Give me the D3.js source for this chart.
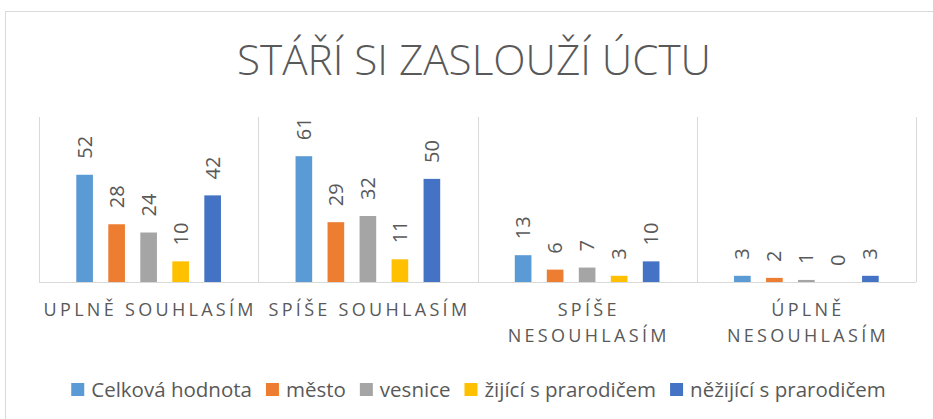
<!DOCTYPE html>
<html>
<head>
<meta charset="utf-8">
<script src="https://cdn.jsdelivr.net/npm/d3@7"></script>
<style>
  body { margin: 0; background: #fff; }
  text { font-family: "Open Sans", sans-serif; }
</style>
</head>
<body>
<svg id="chart" width="933" height="419"></svg>
<script>
const categories = [
  ["UPLNĚ SOUHLASÍM"],
  ["SPÍŠE SOUHLASÍM"],
  ["SPÍŠE", "NESOUHLASÍM"],
  ["ÚPLNĚ", "NESOUHLASÍM"]
];
const seriesNames = ["Celková hodnota", "město", "vesnice", "žijící s prarodičem", "něžijící s prarodičem"];
const colors = ["#5B9BD5", "#ED7D31", "#A5A5A5", "#FFC000", "#4472C4"];
const celkova = [52, 61, 13, 3];
const mesto = [28, 29, 6, 2];
const vesnice = [24, 32, 7, 1];
const zijici = [10, 11, 3, 0];
const nezijici = [42, 50, 10, 3];
const series = [celkova, mesto, vesnice, zijici, nezijici];

const svg = d3.select("#chart");
const margin = { top: 117, left: 39, right: 17, bottom: 137 };
const width = 933 - margin.left - margin.right;
const height = 419 - margin.top - margin.bottom;
const textColor = "#595959";
const gridColor = "#D9D9D9";

// chart border
svg.append("rect")
  .attr("x", 5.5).attr("y", 11.5)
  .attr("width", 940).attr("height", 420)
  .attr("fill", "none").attr("stroke", gridColor);

// title
svg.append("text")
  .attr("x", 474).attr("y", 75)
  .attr("text-anchor", "middle")
  .attr("font-size", 42)
  .attr("font-weight", 300)
  .attr("fill", textColor)
  .attr("textLength", 474)
  .attr("lengthAdjust", "spacingAndGlyphs")
  .text("STÁŘÍ SI ZASLOUŽÍ ÚCTU");

const g = svg.append("g").attr("transform", `translate(${margin.left},${margin.top})`);

const catKeys = categories.map((c) => c.join(" "));
const x0 = d3.scaleBand().domain(catKeys).range([0, width]);
const x1 = d3.scaleBand().domain(seriesNames).range([0, x0.bandwidth()])
  .paddingInner(0.48).paddingOuter(1.165);
const y = d3.scaleLinear().domain([0, 80]).range([height, 0]);

// category separators
g.selectAll("line.sep")
  .data(d3.range(catKeys.length + 1))
  .enter().append("line")
  .attr("x1", (i) => Math.round(i * x0.step()) + 0.5)
  .attr("x2", (i) => Math.round(i * x0.step()) + 0.5)
  .attr("y1", 0).attr("y2", height)
  .attr("stroke", gridColor);

// bars
const groups = g.selectAll("g.cat")
  .data(catKeys)
  .enter().append("g")
  .attr("transform", (d) => `translate(${x0(d)},0)`);

groups.each(function (cat, ci) {
  const grp = d3.select(this);
  const vals = seriesNames.map((s, si) => ({ s, si, v: series[si][ci] }));
  grp.selectAll("rect")
    .data(vals)
    .enter().append("rect")
    .attr("x", (d) => x1(d.s))
    .attr("y", (d) => y(d.v))
    .attr("width", x1.bandwidth())
    .attr("height", (d) => height - y(d.v))
    .attr("fill", (d) => colors[d.si]);
  grp.selectAll("text")
    .data(vals)
    .enter().append("text")
    .attr("transform", (d) => `translate(${x1(d.s) + x1.bandwidth() / 2 + 7},${y(d.v) - 16}) rotate(-90)`)
    .attr("font-size", 20)
    .attr("fill", textColor)
    .text((d) => d.v);
});

// baseline axis
g.append("line")
  .attr("x1", 0).attr("x2", width)
  .attr("y1", height + 0.5).attr("y2", height + 0.5)
  .attr("stroke", gridColor);

// category labels
categories.forEach((lines, ci) => {
  const cx = x0(catKeys[ci]) + x0.bandwidth() / 2;
  const t = g.append("text")
    .attr("y", height + 34)
    .attr("text-anchor", "middle")
    .attr("font-size", 18)
    .attr("letter-spacing", 3.3)
    .attr("fill", textColor);
  lines.forEach((ln, li) => {
    t.append("tspan")
      .attr("x", cx + 1.6)
      .attr("dy", li === 0 ? 0 : 26)
      .text(ln);
  });
});

// legend, laid out from measured text widths and centred
const legend = svg.append("g").attr("transform", "translate(0,397)");
let lx = 0;
const items = seriesNames.map((s, i) => {
  const item = legend.append("g");
  item.append("rect")
    .attr("x", 0).attr("y", -14)
    .attr("width", 13).attr("height", 13)
    .attr("fill", colors[i]);
  const t = item.append("text")
    .attr("x", 20).attr("y", 0)
    .attr("font-size", 20.5)
    .attr("fill", textColor)
    .text(s);
  const w = 20 + t.node().getComputedTextLength();
  const pos = lx;
  lx += w + 14;
  return { item, pos };
});
const totalW = lx - 14;
const startX = 478.5 - totalW / 2;
items.forEach(({ item, pos }) => item.attr("transform", `translate(${startX + pos},0)`));
</script>
</body>
</html>
